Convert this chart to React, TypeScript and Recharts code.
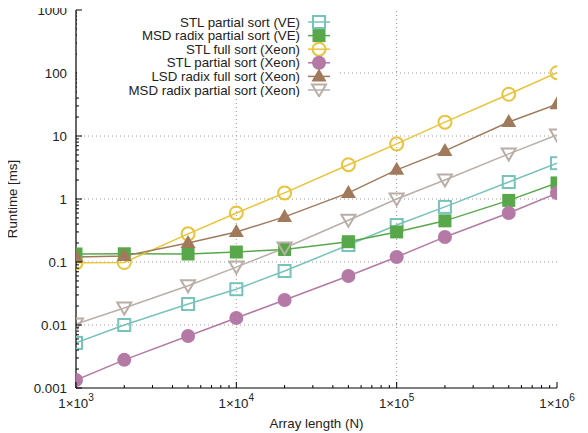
import React from 'react'
import { LineChart, Line, XAxis, YAxis, ReferenceLine, Label } from 'recharts'

// array lengths (N)
const sizes = [1000, 2000, 5000, 10000, 20000, 50000, 100000, 200000, 500000, 1000000]

// runtimes in ms
const stlPartialVE = [0.0052, 0.01, 0.0215, 0.037, 0.072, 0.186, 0.386, 0.75, 1.86, 3.7]
const msdPartialVE = [0.134, 0.135, 0.134, 0.144, 0.158, 0.21, 0.3, 0.45, 0.95, 1.8]
const stlFullXeon = [0.097, 0.098, 0.28, 0.6, 1.25, 3.5, 7.5, 16.6, 46, 101]
const stlPartialXeon = [0.00134, 0.0028, 0.0067, 0.0129, 0.025, 0.06, 0.12, 0.25, 0.6, 1.24]
const lsdFullXeon = [0.12, 0.125, 0.2, 0.3, 0.52, 1.25, 2.9, 5.8, 16.7, 32]
const msdPartialXeon = [0.0104, 0.0186, 0.042, 0.083, 0.167, 0.46, 1.0, 2.0, 5.2, 10.4]

const xMajorTicks = [1000, 10000, 100000, 1000000]
const xTickExponents = ['3', '4', '5', '6']
const yMajorTicks = [0.001, 0.01, 0.1, 1, 10, 100, 1000]
const yTickLabels = ['0.001', '0.01', '0.1', '1', '10', '100', '1000']

const withMinors = (majors: number[]) => {
  const out: number[] = []
  majors.forEach((m, i) => {
    out.push(m)
    if (i < majors.length - 1) for (let k = 2; k <= 9; k++) out.push(m * k)
  })
  return out
}
const xAllTicks = withMinors(xMajorTicks)
const yAllTicks = withMinors(yMajorTicks)

const series = [
  { key: 'stlPartialVE', name: 'STL partial sort (VE)', color: '#77c3bb', shape: 'openSquare', values: stlPartialVE },
  { key: 'msdPartialVE', name: 'MSD radix partial sort (VE)', color: '#58a84b', shape: 'square', values: msdPartialVE },
  { key: 'stlFullXeon', name: 'STL full sort (Xeon)', color: '#e9c43a', shape: 'openCircle', values: stlFullXeon },
  { key: 'stlPartialXeon', name: 'STL partial sort (Xeon)', color: '#b47aa5', shape: 'circle', values: stlPartialXeon },
  { key: 'lsdFullXeon', name: 'LSD radix full sort (Xeon)', color: '#a07a5b', shape: 'triangle', values: lsdFullXeon },
  { key: 'msdPartialXeon', name: 'MSD radix partial sort (Xeon)', color: '#b9aea8', shape: 'openTriangleDown', values: msdPartialXeon },
]

const data = sizes.map((n, i) => {
  const row: Record<string, number> = { n }
  series.forEach((s) => (row[s.key] = s.values[i]))
  return row
})

const FONT = '"Liberation Sans", Arial, Helvetica, sans-serif'
const FS = 13.3

const isMajor = (v: number) => Math.abs(Math.log10(v) - Math.round(Math.log10(v))) < 1e-6

function Marker({ shape, color, cx, cy }: { shape: string; color: string; cx: number; cy: number }) {
  switch (shape) {
    case 'openSquare':
      return <rect x={cx - 6} y={cy - 6} width={12} height={12} fill="none" stroke={color} strokeWidth={2} />
    case 'square':
      return <rect x={cx - 6.5} y={cy - 6.5} width={13} height={13} fill={color} />
    case 'openCircle':
      return <circle cx={cx} cy={cy} r={6.5} fill="none" stroke={color} strokeWidth={2} />
    case 'circle':
      return <circle cx={cx} cy={cy} r={7} fill={color} />
    case 'triangle':
      return <polygon points={`${cx},${cy - 8} ${cx + 7.5},${cy + 5} ${cx - 7.5},${cy + 5}`} fill={color} />
    default:
      return (
        <polygon
          points={`${cx - 7},${cy - 5.5} ${cx + 7},${cy - 5.5} ${cx},${cy + 6.5}`}
          fill="none"
          stroke={color}
          strokeWidth={2}
        />
      )
  }
}

const XTick = (props: any) => {
  const { x, y, payload, side } = props
  const v = payload.value
  const major = isMajor(v)
  const len = major ? 6 : 3
  const dir = side === 'top' ? 1 : -1
  const idx = xMajorTicks.findIndex((t) => Math.abs(t - v) < 1e-6)
  return (
    <g>
      <line x1={x} x2={x} y1={y} y2={y + dir * len} stroke="#000" strokeWidth={1} />
      {side !== 'top' && idx >= 0 && (
        <text x={x} y={y + 20} textAnchor="middle" fontSize={FS} fontFamily={FONT} fill="#222">
          1×10
          <tspan dy={-7} fontSize={10}>
            {xTickExponents[idx]}
          </tspan>
        </text>
      )}
    </g>
  )
}

const YTick = (props: any) => {
  const { x, y, payload, side } = props
  const v = payload.value
  const major = isMajor(v)
  const len = major ? 6 : 3
  const dir = side === 'right' ? -1 : 1
  const idx = yMajorTicks.findIndex((t) => Math.abs(t - v) / t < 1e-6)
  return (
    <g>
      <line x1={x} x2={x + dir * len} y1={y} y2={y} stroke="#000" strokeWidth={1} />
      {side !== 'right' && idx >= 0 && (
        <text x={x - 9} y={y + 5} textAnchor="end" fontSize={FS} fontFamily={FONT} fill="#222">
          {yTickLabels[idx]}
        </text>
      )}
    </g>
  )
}

function KeyBox() {
  return (
    <div style={{ position: 'absolute', left: 77, top: 11, width: 261, height: 86, background: '#fff' }}>
      <svg width={261} height={86} style={{ display: 'block' }}>
        {series.map((s, i) => {
          const cy = 11 + i * 13.6
          return (
            <g key={s.key}>
              <text x={223} y={cy + 4.5} textAnchor="end" fontSize={FS} fontFamily={FONT} fill="#222">
                {s.name}
              </text>
              <line x1={231} x2={253} y1={cy} y2={cy} stroke={s.color} strokeWidth={1.5} />
              <Marker shape={s.shape} color={s.color} cx={242} cy={cy} />
            </g>
          )
        })}
      </svg>
    </div>
  )
}

export default function App() {
  return (
    <div style={{ position: 'relative', width: 588, height: 433, margin: '-8px 0 0 -8px', fontFamily: FONT }}>
      <LineChart width={588} height={433} data={data} margin={{ top: 10, right: 31, bottom: 0, left: 0 }}>
        <XAxis
          dataKey="n"
          type="number"
          scale="log"
          domain={[1000, 1000000]}
          allowDataOverflow
          ticks={xAllTicks}
          interval={0}
          height={45}
          tickSize={0}
          tickMargin={0}
          tickLine={false}
          axisLine={{ stroke: '#000', strokeWidth: 1.2 }}
          tick={<XTick side="bottom" />}
        >
          <Label value="Array length (N)" position="insideBottom" offset={5} fontSize={FS} fill="#222" fontFamily={FONT} />
        </XAxis>
        <XAxis
          xAxisId="top"
          orientation="top"
          type="number"
          scale="log"
          domain={[1000, 1000000]}
          allowDataOverflow
          ticks={xAllTicks}
          interval={0}
          height={0}
          tickSize={0}
          tickMargin={0}
          tickLine={false}
          axisLine={{ stroke: '#000', strokeWidth: 1.2 }}
          tick={<XTick side="top" />}
        />
        <YAxis
          type="number"
          scale="log"
          domain={[0.001, 1000]}
          allowDataOverflow
          ticks={yAllTicks}
          interval={0}
          width={76}
          tickSize={0}
          tickMargin={0}
          tickLine={false}
          axisLine={{ stroke: '#000', strokeWidth: 1.2 }}
          tick={<YTick side="left" />}
        >
          <Label
            value="Runtime [ms]"
            angle={-90}
            position="insideLeft"
            offset={12}
            fontSize={FS}
            fill="#222"
            fontFamily={FONT}
            style={{ textAnchor: 'middle' }}
          />
        </YAxis>
        <YAxis
          yAxisId="right"
          orientation="right"
          type="number"
          scale="log"
          domain={[0.001, 1000]}
          allowDataOverflow
          ticks={yAllTicks}
          interval={0}
          width={0}
          tickSize={0}
          tickMargin={0}
          tickLine={false}
          axisLine={{ stroke: '#000', strokeWidth: 1.2 }}
          tick={<YTick side="right" />}
        />
        {xMajorTicks.slice(1, -1).map((t) => (
          <ReferenceLine key={`gx${t}`} x={t} stroke="#9a9a9a" strokeDasharray="1 3" strokeWidth={1} />
        ))}
        {yMajorTicks.slice(1, -1).map((t) => (
          <ReferenceLine key={`gy${t}`} y={t} stroke="#9a9a9a" strokeDasharray="1 3" strokeWidth={1} />
        ))}
        {series.map((s) => (
          <Line
            key={s.key}
            dataKey={s.key}
            name={s.name}
            stroke={s.color}
            strokeWidth={1.5}
            isAnimationActive={false}
            activeDot={false}
            dot={(p: any) => <Marker key={`${s.key}-${p.index}`} shape={s.shape} color={s.color} cx={p.cx} cy={p.cy} />}
          />
        ))}
      </LineChart>
      <KeyBox />
    </div>
  )
}
